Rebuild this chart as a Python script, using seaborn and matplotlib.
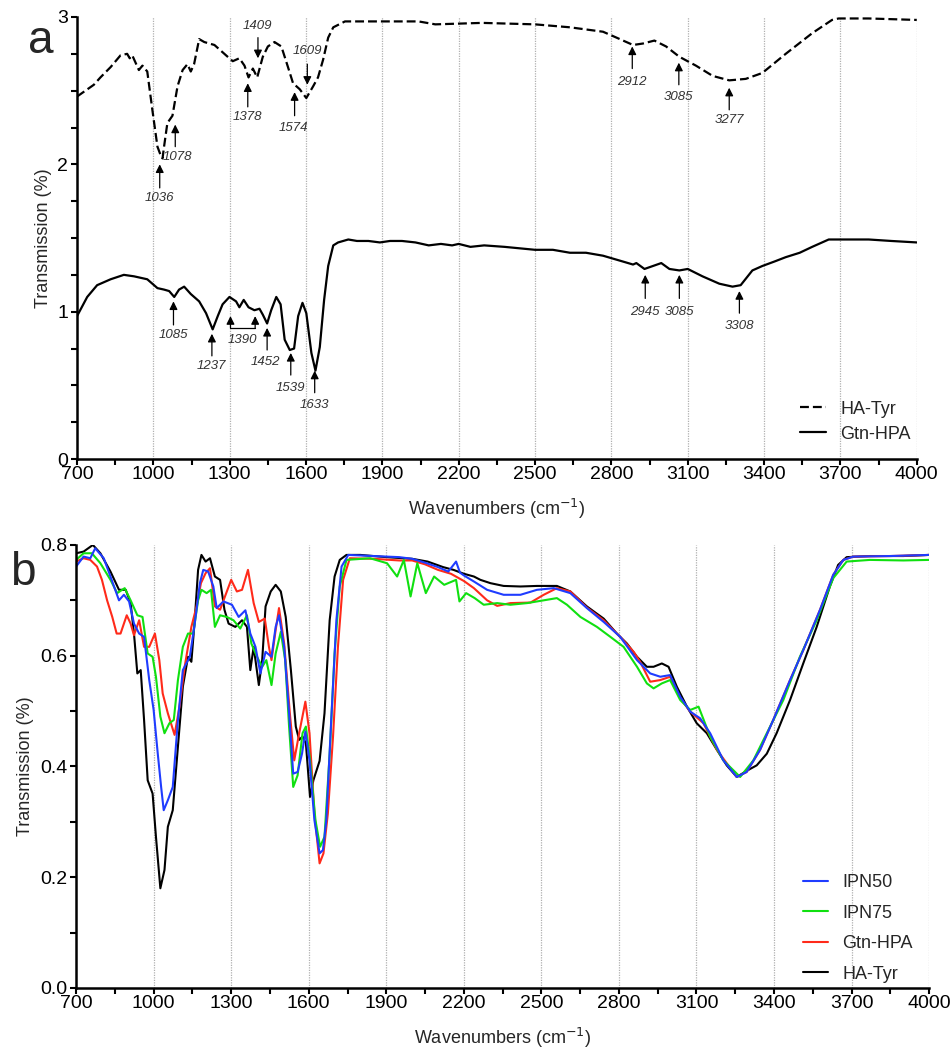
import numpy as np
import pandas as pd
from matplotlib import pyplot as plt
import seaborn as sns

# ---- panel a : HA-Tyr (dashed) and Gtn-HPA (solid), offset spectra ----
a_hatyr_x = [700, 766, 792, 832, 871, 897, 907, 917, 943, 957, 976, 996, 1016, 1029, 1036,
             1042, 1055, 1075, 1095, 1115, 1134, 1147, 1160, 1180, 1200, 1240, 1292, 1312,
             1338, 1358, 1374, 1391, 1408, 1430, 1450, 1476, 1503, 1529, 1549, 1575, 1601,
             1628, 1647, 1667, 1687, 1707, 1753, 1845, 1977, 2042, 2108, 2292, 2500, 2637,
             2767, 2820, 2859, 2885, 2924, 2969, 3015, 3067, 3132, 3198, 3263, 3328, 3393,
             3485, 3589, 3667, 3693, 3811, 4000]
a_hatyr_y = [2.46, 2.54, 2.59, 2.66, 2.74, 2.75, 2.72, 2.74, 2.64, 2.67, 2.63, 2.37, 2.12, 2.06, 2.04,
             2.12, 2.28, 2.33, 2.53, 2.64, 2.68, 2.63, 2.68, 2.85, 2.83, 2.81, 2.73, 2.70,
             2.72, 2.67, 2.59, 2.65, 2.59, 2.73, 2.80, 2.83, 2.80, 2.66, 2.55, 2.51, 2.45,
             2.53, 2.59, 2.71, 2.86, 2.93, 2.97, 2.97, 2.97, 2.97, 2.95, 2.96, 2.95, 2.93,
             2.90, 2.86, 2.83, 2.81, 2.82, 2.84, 2.80, 2.73, 2.67, 2.60, 2.57, 2.58, 2.62,
             2.75, 2.89, 2.98, 2.99, 2.99, 2.98]

a_gtn_x = [700, 740, 779, 832, 884, 924, 976, 1016, 1042, 1062, 1082, 1101, 1121, 1147, 1180,
           1207, 1233, 1253, 1272, 1299, 1325, 1338, 1355, 1374, 1397, 1417, 1430, 1447, 1463,
           1483, 1500, 1516, 1536, 1553, 1569, 1586, 1601, 1621, 1637, 1654, 1671, 1687, 1707,
           1726, 1766, 1800, 1845, 1890, 1930, 1977, 2030, 2082, 2130, 2174, 2200, 2246, 2300,
           2380, 2440, 2500, 2570, 2637, 2700, 2767, 2846, 2885, 2898, 2930, 2963, 2996, 3028,
           3067, 3100, 3158, 3224, 3276, 3308, 3354, 3393, 3440, 3485, 3540, 3589, 3654, 3693,
           3750, 3811, 3900, 4000]
a_gtn_y = [0.97, 1.10, 1.18, 1.22, 1.25, 1.24, 1.22, 1.16, 1.15, 1.14, 1.10, 1.15, 1.17, 1.12, 1.07,
           0.99, 0.88, 0.97, 1.05, 1.10, 1.07, 1.03, 1.08, 1.03, 1.01, 1.02, 0.98, 0.92, 1.01,
           1.10, 1.05, 0.81, 0.74, 0.75, 0.97, 1.06, 0.99, 0.72, 0.60, 0.76, 1.08, 1.31, 1.45,
           1.47, 1.49, 1.48, 1.48, 1.47, 1.48, 1.48, 1.47, 1.45, 1.46, 1.45, 1.46, 1.44, 1.45,
           1.44, 1.43, 1.42, 1.42, 1.40, 1.40, 1.38, 1.34, 1.32, 1.33, 1.29, 1.31, 1.33, 1.29,
           1.28, 1.29, 1.24, 1.19, 1.17, 1.18, 1.28, 1.31, 1.34, 1.37, 1.40, 1.44, 1.49, 1.49,
           1.49, 1.49, 1.48, 1.47]

# annotations: label, arrow x, arrow tip, arrow tail, text x, text y
peaks_a = [
    ("1036", 1025, 2.00, 1.84, 1025, 1.77),
    ("1078", 1086, 2.27, 2.12, 1095, 2.05),
    ("1378", 1371, 2.55, 2.39, 1368, 2.32),
    ("1409", 1411, 2.72, 2.86, 1408, 2.94),
    ("1574", 1555, 2.49, 2.33, 1550, 2.25),
    ("1609", 1605, 2.54, 2.68, 1605, 2.77),
    ("2912", 2882, 2.80, 2.65, 2882, 2.56),
    ("3085", 3065, 2.69, 2.54, 3065, 2.46),
    ("3277", 3263, 2.52, 2.37, 3263, 2.30),
    ("1085", 1079, 1.07, 0.91, 1079, 0.84),
    ("1237", 1230, 0.85, 0.70, 1230, 0.63),
    ("1452", 1447, 0.89, 0.74, 1440, 0.66),
    ("1539", 1540, 0.72, 0.57, 1540, 0.48),
    ("1633", 1634, 0.60, 0.45, 1634, 0.37),
    ("2945", 2933, 1.25, 1.09, 2933, 1.00),
    ("3085", 3067, 1.25, 1.09, 3067, 1.00),
    ("3308", 3303, 1.14, 0.99, 3303, 0.90),
]
bracket_x = [1303, 1400]

# ---- panel b : four spectra ----
b_hatyr_x = [700, 729, 765, 794, 833, 866, 892, 911, 924, 937, 950, 963, 977, 996, 1009, 1026,
             1042, 1055, 1074, 1094, 1113, 1133, 1146, 1159, 1172, 1185, 1201, 1218, 1237, 1257,
             1274, 1290, 1316, 1342, 1361, 1374, 1387, 1407, 1420, 1433, 1453, 1472, 1492, 1511,
             1531, 1550, 1563, 1576, 1589, 1605, 1618, 1642, 1661, 1681, 1700, 1720, 1746, 1800,
             1900, 2000, 2060, 2120, 2160, 2200, 2239, 2264, 2303, 2354, 2419, 2483, 2560, 2612,
             2676, 2741, 2792, 2831, 2870, 2908, 2934, 2966, 2992, 3024, 3063, 3101, 3140, 3179,
             3217, 3256, 3294, 3333, 3372, 3410, 3462, 3513, 3565, 3616, 3648, 3681, 3771, 3900,
             4000]
b_hatyr_y = [0.785, 0.788, 0.800, 0.785, 0.752, 0.719, 0.719, 0.695, 0.640, 0.568, 0.574, 0.484,
             0.375, 0.351, 0.273, 0.180, 0.213, 0.291, 0.321, 0.436, 0.544, 0.598, 0.589, 0.664,
             0.755, 0.782, 0.770, 0.776, 0.743, 0.737, 0.683, 0.658, 0.652, 0.664, 0.652, 0.574,
             0.616, 0.547, 0.592, 0.689, 0.716, 0.728, 0.716, 0.670, 0.574, 0.472, 0.448, 0.454,
             0.442, 0.345, 0.375, 0.410, 0.496, 0.664, 0.743, 0.773, 0.782, 0.782, 0.778, 0.775,
             0.770, 0.760, 0.755, 0.748, 0.743, 0.737, 0.731, 0.726, 0.725, 0.726, 0.726, 0.716,
             0.689, 0.667, 0.640, 0.622, 0.598, 0.580, 0.580, 0.586, 0.580, 0.544, 0.508, 0.478,
             0.460, 0.430, 0.402, 0.381, 0.392, 0.402, 0.423, 0.460, 0.520, 0.586, 0.652, 0.725,
             0.764, 0.778, 0.780, 0.780, 0.782]

b_ipn50_x = [700, 729, 755, 774, 807, 833, 866, 885, 905, 924, 944, 963, 983, 1000, 1016, 1029,
             1039, 1055, 1074, 1094, 1113, 1140, 1159, 1179, 1192, 1211, 1231, 1244, 1270, 1303,
             1329, 1355, 1374, 1394, 1413, 1433, 1456, 1472, 1485, 1505, 1524, 1540, 1557, 1574,
             1587, 1603, 1622, 1642, 1655, 1668, 1687, 1707, 1727, 1753, 1850, 1950, 2000, 2050,
             2100, 2140, 2170, 2185, 2200, 2239, 2290, 2354, 2419, 2483, 2548, 2612, 2676, 2741,
             2805, 2870, 2921, 2960, 2998, 3037, 3076, 3114, 3153, 3204, 3256, 3294, 3346, 3397,
             3462, 3513, 3578, 3629, 3668, 3707, 3850, 4000]
b_ipn50_y = [0.761, 0.779, 0.776, 0.794, 0.776, 0.743, 0.700, 0.710, 0.698, 0.658, 0.640, 0.634,
             0.556, 0.502, 0.423, 0.363, 0.321, 0.339, 0.363, 0.484, 0.574, 0.598, 0.658, 0.731,
             0.755, 0.752, 0.725, 0.686, 0.698, 0.692, 0.670, 0.682, 0.640, 0.616, 0.568, 0.607,
             0.598, 0.652, 0.673, 0.616, 0.496, 0.387, 0.390, 0.423, 0.463, 0.411, 0.303, 0.243,
             0.249, 0.303, 0.484, 0.664, 0.761, 0.782, 0.780, 0.778, 0.775, 0.768, 0.760, 0.752,
             0.770, 0.750, 0.745, 0.734, 0.719, 0.710, 0.710, 0.719, 0.722, 0.713, 0.686, 0.661,
             0.634, 0.592, 0.568, 0.562, 0.565, 0.526, 0.499, 0.487, 0.460, 0.411, 0.381, 0.390,
             0.430, 0.484, 0.556, 0.610, 0.683, 0.746, 0.773, 0.779, 0.780, 0.782]

b_ipn75_x = [700, 729, 761, 794, 833, 859, 888, 911, 937, 957, 977, 996, 1009, 1026, 1042, 1061,
             1078, 1094, 1113, 1133, 1153, 1172, 1185, 1205, 1222, 1237, 1257, 1283, 1309, 1335,
             1361, 1378, 1400, 1420, 1436, 1456, 1472, 1492, 1509, 1524, 1540, 1557, 1576, 1589,
             1605, 1626, 1644, 1661, 1681, 1700, 1720, 1746, 1837, 1903, 1942, 1968, 1994, 2020,
             2053, 2085, 2124, 2170, 2183, 2209, 2242, 2277, 2329, 2380, 2445, 2509, 2560, 2599,
             2651, 2715, 2767, 2818, 2870, 2908, 2934, 2966, 2998, 3037, 3076, 3108, 3153, 3204,
             3269, 3320, 3372, 3436, 3500, 3565, 3629, 3681, 3771, 3900, 4000]
b_ipn75_y = [0.773, 0.785, 0.785, 0.767, 0.737, 0.713, 0.722, 0.700, 0.673, 0.670, 0.604, 0.598,
             0.562, 0.490, 0.460, 0.478, 0.484, 0.556, 0.616, 0.640, 0.640, 0.700, 0.719, 0.713,
             0.719, 0.652, 0.673, 0.670, 0.664, 0.649, 0.673, 0.622, 0.598, 0.580, 0.592, 0.547,
             0.604, 0.643, 0.592, 0.472, 0.363, 0.384, 0.460, 0.472, 0.411, 0.303, 0.255, 0.273,
             0.423, 0.604, 0.725, 0.773, 0.776, 0.767, 0.743, 0.773, 0.707, 0.767, 0.713, 0.743,
             0.728, 0.737, 0.698, 0.713, 0.704, 0.692, 0.695, 0.692, 0.695, 0.700, 0.704, 0.692,
             0.670, 0.652, 0.634, 0.616, 0.580, 0.550, 0.541, 0.550, 0.556, 0.520, 0.502, 0.508,
             0.454, 0.411, 0.381, 0.411, 0.460, 0.520, 0.598, 0.664, 0.740, 0.770, 0.773, 0.772,
             0.773]

b_gtn_x = [700, 729, 755, 781, 800, 820, 840, 857, 872, 896, 911, 924, 944, 963, 983, 1005, 1022,
           1035, 1055, 1081, 1100, 1120, 1146, 1166, 1183, 1201, 1218, 1237, 1257, 1276, 1300,
           1322, 1342, 1365, 1387, 1407, 1430, 1446, 1456, 1472, 1485, 1505, 1527, 1544, 1563,
           1587, 1603, 1622, 1642, 1657, 1674, 1694, 1713, 1733, 1759, 1850, 1950, 2000, 2050,
           2100, 2150, 2200, 2239, 2290, 2329, 2380, 2458, 2509, 2560, 2612, 2676, 2741, 2805,
           2857, 2882, 2921, 2960, 2998, 3037, 3076, 3127, 3179, 3256, 3294, 3346, 3397, 3462,
           3513, 3578, 3629, 3668, 3707, 3850, 4000]
b_gtn_y = [0.770, 0.776, 0.773, 0.761, 0.737, 0.700, 0.670, 0.640, 0.640, 0.673, 0.658, 0.637,
           0.664, 0.616, 0.616, 0.640, 0.592, 0.532, 0.496, 0.457, 0.508, 0.580, 0.652, 0.689,
           0.731, 0.749, 0.758, 0.689, 0.683, 0.707, 0.737, 0.716, 0.719, 0.755, 0.695, 0.661,
           0.667, 0.616, 0.592, 0.646, 0.686, 0.622, 0.496, 0.411, 0.460, 0.517, 0.460, 0.315,
           0.225, 0.243, 0.315, 0.454, 0.616, 0.737, 0.776, 0.775, 0.772, 0.772, 0.765, 0.755,
           0.748, 0.735, 0.722, 0.700, 0.690, 0.695, 0.696, 0.710, 0.722, 0.716, 0.687, 0.664,
           0.634, 0.607, 0.589, 0.553, 0.556, 0.562, 0.523, 0.499, 0.478, 0.430, 0.381, 0.390,
           0.430, 0.484, 0.556, 0.610, 0.683, 0.746, 0.773, 0.779, 0.780, 0.782]

xticks = np.arange(700, 4001, 300)

sns.set_style("white")
plt.rcParams['font.family'] = ['Liberation Sans', 'DejaVu Sans']

fig = plt.figure(figsize=(9.51, 10.49), dpi=100)
ax1 = fig.add_axes([0.081, 0.5624, 0.883, 0.4214])
ax2 = fig.add_axes([0.080, 0.0582, 0.897, 0.4223])


def style_axes(ax, ymax, ystep, yminor):
    ax.set_xlim(700, 4000)
    ax.set_ylim(0, ymax)
    ax.set_xticks(xticks)
    ax.set_xticks(np.arange(850, 4000, 300), minor=True)
    ax.set_yticks(np.arange(0, ymax + 1e-9, ystep))
    ax.set_yticks(np.arange(0, ymax + 1e-9, yminor), minor=True)
    for x in xticks[1:]:
        ax.axvline(x, color='#b0b0b0', lw=0.9, ls=(0, (1, 1)), zorder=0)
    sns.despine(ax=ax)
    for s in ['left', 'bottom']:
        ax.spines[s].set_linewidth(1.8)
        ax.spines[s].set_color('black')
    ax.tick_params(which='both', direction='out', length=4.5, width=1.5, colors='black',
                   labelsize=14, bottom=True, left=True)
    ax.tick_params(axis='x', pad=0.5)
    ax.tick_params(axis='y', pad=2)
    ax.set_xlabel('Wavenumbers (cm$^{-1}$)', fontsize=13, labelpad=10)
    ax.set_ylabel('Transmission (%)', fontsize=13)


# panel a
dfa1 = pd.DataFrame({'x': a_hatyr_x, 'y': a_hatyr_y})
dfa2 = pd.DataFrame({'x': a_gtn_x, 'y': a_gtn_y})
sns.lineplot(data=dfa1, x='x', y='y', ax=ax1, color='black', lw=1.6,
             linestyle=(0, (4, 1.8)), label='HA-Tyr', estimator=None)
sns.lineplot(data=dfa2, x='x', y='y', ax=ax1, color='black', lw=1.6,
             label='Gtn-HPA', estimator=None)
style_axes(ax1, 3, 1, 0.25)
ax1.set_yticklabels(['0', '1', '2', '3'])

for lab, px, tip, tail, tx, ty in peaks_a:
    ax1.annotate('', xy=(px, tip), xytext=(px, tail),
                 arrowprops=dict(arrowstyle='-|>', color='black', lw=0.9,
                                 mutation_scale=12, shrinkA=0, shrinkB=0))
    ax1.text(tx, ty, lab, ha='center', va='center', style='italic',
             fontsize=9.5, color='#333333')
for px in bracket_x:
    ax1.annotate('', xy=(px, 0.97), xytext=(px, 0.89),
                 arrowprops=dict(arrowstyle='-|>', color='black', lw=0.9,
                                 mutation_scale=12, shrinkA=0, shrinkB=0))
ax1.plot(bracket_x, [0.89, 0.89], color='black', lw=0.9)
ax1.text(sum(bracket_x) / 2, 0.81, '1390', ha='center', va='center',
         style='italic', fontsize=9.5, color='#333333')

ax1.legend(loc='lower right', frameon=False, fontsize=13, handlelength=1.4,
           labelspacing=0.45, bbox_to_anchor=(1.012, 0.0))

# panel b
series_b = [
    ('HA-Tyr', b_hatyr_x, b_hatyr_y, '#000000'),
    ('Gtn-HPA', b_gtn_x, b_gtn_y, '#ff2a1a'),
    ('IPN75', b_ipn75_x, b_ipn75_y, '#10e010'),
    ('IPN50', b_ipn50_x, b_ipn50_y, '#1f3cff'),
]
for name, xs, ys, col in series_b:
    df = pd.DataFrame({'x': xs, 'y': ys})
    sns.lineplot(data=df, x='x', y='y', ax=ax2, color=col, lw=1.5, label=name,
                 estimator=None)
style_axes(ax2, 0.8, 0.2, 0.1)
ax2.set_yticklabels(['0.0', '0.2', '0.4', '0.6', '0.8'])

h, l = ax2.get_legend_handles_labels()
order = [3, 2, 1, 0]
ax2.legend([h[i] for i in order], [l[i] for i in order], loc='lower right',
           frameon=False, fontsize=13, handlelength=1.4, labelspacing=0.75,
           bbox_to_anchor=(1.0, -0.025))

fig.text(28 / 951, 1 - 53 / 1049, 'a', fontsize=33, va='baseline', ha='left')
fig.text(10 / 951, 1 - 585 / 1049, 'b', fontsize=33, va='baseline', ha='left')

fig.savefig('out.png', dpi=100)
